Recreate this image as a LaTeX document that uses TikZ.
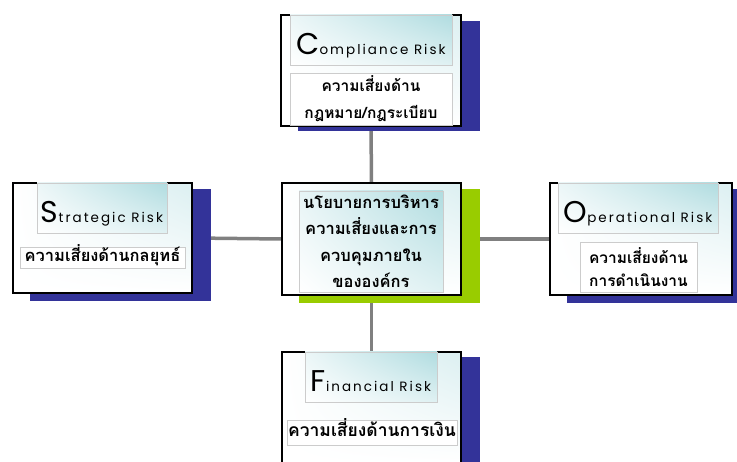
\documentclass[tikz,border=0pt]{standalone}
\usepackage{fontspec}
\setmainfont{Poppins}
\newfontfamily\thaifont[Script=Thai]{Loma}
\newfontfamily\titlefont[LetterSpace=15]{Poppins}
\usetikzlibrary{shadings}
\definecolor{shblue}{RGB}{51,51,153}
\definecolor{shgreen}{RGB}{153,204,0}
\definecolor{tealone}{RGB}{176,220,224}
\definecolor{linegray}{RGB}{128,128,128}
\pgfdeclarelayer{lines}
\pgfdeclarelayer{shadows}
\pgfsetlayers{lines,shadows,main}
\tikzset{
  outerbox/.style={draw=black, line width=1.3pt, inner sep=0pt,
    upper right=tealone!45!white, upper left=white, lower left=white, lower right=white},
  titlebox/.style={draw=black!20, line width=0.6pt, inner sep=0pt,
    upper right=tealone, upper left=tealone!25!white, lower left=white, lower right=tealone!40!white,
    font=\titlefont, text height=30, text depth=0},
  subbox/.style={draw=black!20, line width=0.6pt, fill=white, inner sep=0pt, align=center},
  oneline/.style={text height=13, text depth=5},
  centerbox/.style={draw=black!20, line width=0.6pt, inner sep=0pt, align=center,
    upper right=tealone, upper left=tealone!30!white, lower left=white, lower right=tealone!40!white},
  conn/.style={draw=linegray, line width=3.5pt},
  thaisz/.style 2 args={font=\thaifont\bfseries\fontsize{#1}{#2}\selectfont},
}
\newcommand{\riskttl}[2]{{\fontsize{30}{30}\selectfont #1}{\fontsize{13.5}{13.5}\selectfont #2}}
\begin{document}
\begin{tikzpicture}[x=1pt,y=-1pt]
\useasboundingbox (0,0) rectangle (737,462);
\clip (0,0) rectangle (737,462);
% outer boxes
\node[outerbox, minimum width=180, minimum height=111] (top) at (371,70.5) {};
\node[outerbox, minimum width=179, minimum height=112] (mid) at (371.5,239) {};
\node[outerbox, minimum width=179, minimum height=110] (left) at (102.5,238) {};
\node[outerbox, minimum width=182, minimum height=112] (right) at (641,239) {};
\node[outerbox, minimum width=179, minimum height=111] (bot) at (371.5,407.5) {};
% shadows
\begin{pgfonlayer}{shadows}
\fill[shblue] ([shift={(18,7)}]top.north west) rectangle ([shift={(18,4)}]top.south east);
\fill[shgreen] ([shift={(18,7)}]mid.north west) rectangle ([shift={(18,7)}]mid.south east);
\fill[shblue] ([shift={(18,7)}]left.north west) rectangle ([shift={(18,7)}]left.south east);
\fill[shblue] ([shift={(18,7)}]right.north west) rectangle ([shift={(18,7)}]right.south east);
\fill[shblue] ([shift={(18,6)}]bot.north west) rectangle ([shift={(18,6)}]bot.south east);
\end{pgfonlayer}
% connectors
\begin{pgfonlayer}{lines}
\draw[conn] (top.south) -- (mid.north);
\draw[conn] (mid.south) -- (bot.north);
\draw[conn] (left.east) -- (mid.west);
\draw[conn] (mid.east) -- (right.west);
\end{pgfonlayer}
% titles
\node[titlebox, minimum width=162, minimum height=50] (toptitle) at (371,40) {\riskttl{C}{ompliance Risk}};
\node[titlebox, minimum width=130, minimum height=50] (lefttitle) at (102,208) {\riskttl{S}{trategic Risk}};
\node[titlebox, minimum width=160, minimum height=50] (righttitle) at (638,208) {\riskttl{O}{perational Risk}};
\node[titlebox, minimum width=132, minimum height=50] (bottitle) at (371,377) {\riskttl{F}{inancial Risk}};
% subtitles
\node[subbox, thaisz={15.5}{27}, minimum width=162, minimum height=52] (topsub) at (371,99) {ความเสี่ยงด้าน\\กฎหมาย/กฎระเบียบ};
\node[subbox, oneline, thaisz={16.5}{20}, minimum width=165, minimum height=21] (leftsub) at (102.5,257.5) {ความเสี่ยงด้านกลยุทธ์};
\node[subbox, thaisz={15.5}{23}, minimum width=117, minimum height=50] (rightsub) at (638.5,267) {ความเสี่ยงด้าน\\การดำเนินงาน};
\node[subbox, oneline, thaisz={17.5}{20}, minimum width=170, minimum height=25] (botsub) at (372,432.5) {ความเสี่ยงด้านการเงิน};
% center
\node[centerbox, thaisz={16.5}{26.5}, minimum width=144, minimum height=101] (midin) at (371,241.5) {นโยบายการบริหาร\\ความเสี่ยงและการ\\ควบคุมภายใน\\ขององค์กร};
\end{tikzpicture}
\end{document}
